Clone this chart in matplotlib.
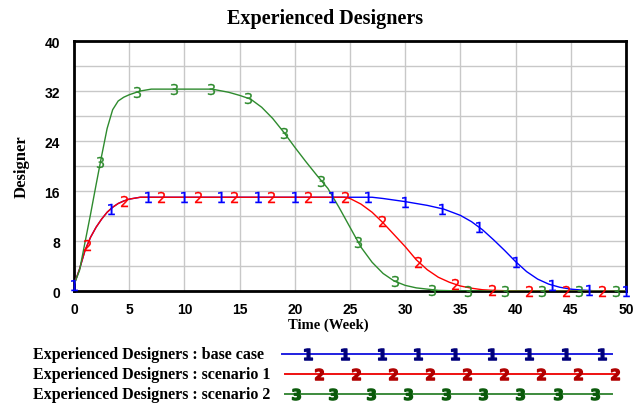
import numpy as np
import matplotlib
matplotlib.use("Agg")
import matplotlib.pyplot as plt

# ---------------- data ----------------
base_t = [0, 0.5, 1, 1.5, 2, 2.5, 3, 3.5, 4, 4.5, 5, 6, 8, 27, 28, 30, 32, 33.5, 35,
          36, 37, 38, 39, 40, 41, 42, 43, 44, 45, 46, 47, 50]
base_v = [1.0, 3.5, 6.5, 8.6, 10.2, 11.5, 12.6, 13.4, 14.0, 14.4, 14.7, 15.0, 15.0, 15.0,
          14.8, 14.3, 13.7, 13.1, 12.1, 11.1, 9.8, 8.2, 6.5, 4.7, 3.1, 1.9, 1.1, 0.6, 0.3,
          0.15, 0.05, 0.0]

s1_t = [0, 0.5, 1, 1.5, 2, 2.5, 3, 3.5, 4, 4.5, 5, 6, 8, 24.5, 25, 26, 27, 28, 29, 30,
        31, 32, 33, 34, 35, 36, 37, 38, 40, 50]
s1_v = [1.0, 3.5, 6.5, 8.6, 10.2, 11.5, 12.6, 13.4, 14.0, 14.4, 14.7, 15.0, 15.0, 15.0,
        14.8, 13.9, 12.6, 10.9, 9.0, 7.1, 5.0, 3.4, 2.2, 1.4, 0.8, 0.45, 0.2, 0.1, 0.0, 0.0]

s2_t = [0, 0.5, 1, 1.5, 2, 2.5, 3, 3.5, 4, 4.5, 5, 6, 7, 12.5, 14, 15, 16, 17, 18, 19,
        20, 21, 22, 23, 24, 25, 26, 27, 28, 29, 30, 31, 32, 33, 35, 50]
s2_v = [1.0, 3.3, 7.8, 12.3, 17.0, 21.6, 26.0, 29.0, 30.4, 31.0, 31.4, 32.0, 32.3, 32.3,
        31.8, 31.3, 30.7, 29.4, 27.6, 25.4, 23.0, 20.7, 18.5, 16.4, 13.4, 10.2, 7.0, 4.6,
        2.8, 1.6, 0.9, 0.5, 0.3, 0.1, 0.0, 0.0]

series_labels = ["Experienced Designers : base case",
                 "Experienced Designers : scenario 1",
                 "Experienced Designers : scenario 2"]
x_ticks = list(range(0, 51, 5))
y_ticks = list(range(0, 41, 8))

# ---------------- styling ----------------
line_colors = ["#0000FF", "#FF0000", "#2E8B2E"]
leg_line_colors = ["#2020E0", "#EE1010", "#3C8A3C"]
leg_mark_colors = ["#00007A", "#B00000", "#0A5A0A"]
mark_syms = ["$1$", "$2$", "$3$"]
leg_syms = [r"$\mathbf{1}$", r"$\mathbf{2}$", r"$\mathbf{3}$"]
mark_offsets = [0.0, 1.2, 2.4]
mark_step = 50 / 15

W, H = 636, 410
fig = plt.figure(figsize=(W / 100, H / 100), dpi=100)
ax = fig.add_axes([74 / W, 118 / H, (626 - 74) / W, (292 - 42) / H])

ax.set_xlim(0, 50)
ax.set_ylim(0, 40)
ax.set_xticks(x_ticks)
ax.set_yticks(y_ticks)
ax.set_yticks(np.arange(4, 40, 8), minor=True)
ax.grid(True, which="both", color="#C8C8C8", linewidth=1.0)
ax.set_axisbelow(True)
ax.tick_params(which="both", length=0)
ax.tick_params(axis="x", pad=8)
ax.tick_params(axis="y", pad=10)
for lab in ax.get_xticklabels() + ax.get_yticklabels():
    lab.set_fontfamily("Liberation Sans")
    lab.set_fontweight("bold")
    lab.set_fontsize(10)
for sp in ax.spines.values():
    sp.set_linewidth(2.0)
    sp.set_color("black")

data = [(base_t, base_v), (s1_t, s1_v), (s2_t, s2_v)]
for i, (t, v) in enumerate(data):
    ax.plot(t, v, color=line_colors[i], linewidth=1.0, zorder=3)
    mt = np.arange(mark_offsets[i], 50.01, mark_step)
    mv = np.interp(mt, t, v)
    ax.plot(mt, mv, linestyle="none", marker=mark_syms[i], markersize=8,
            markeredgewidth=0.2, color=line_colors[i], zorder=4, clip_on=False)

fig.text(325 / W, 1 - 19 / H, "Experienced Designers", ha="center", va="center",
         fontfamily="Liberation Serif", fontweight="bold", fontsize=14.5)
fig.text(22 / W, 1 - 167 / H, "Designer", ha="center", va="center", rotation=90,
         fontfamily="Liberation Serif", fontweight="bold", fontsize=12)
fig.text(328 / W, 1 - 325 / H, "Time (Week)", ha="center", va="center",
         fontfamily="Liberation Serif", fontweight="bold", fontsize=10.5)

# ---------------- legend (drawn in its own axes, pixel-like coordinates) ----------------
lax = fig.add_axes([0, 0, 1, 1], facecolor="none")
lax.set_xlim(0, W)
lax.set_ylim(H, 0)
lax.axis("off")
row_y = [355, 375, 395]
line_span = [(282, 612), (285, 618), (285, 612)]
mark_start = [308, 319, 296]
mark_gap = [36.8, 37.0, 37.4]
for i in range(3):
    lax.text(33, row_y[i], series_labels[i], ha="left", va="center",
             fontfamily="Liberation Serif", fontweight="bold", fontsize=11.5)
    lax.plot(line_span[i], [row_y[i], row_y[i]], color=leg_line_colors[i], linewidth=1.4)
    mx = mark_start[i] + mark_gap[i] * np.arange(9)
    lax.plot(mx, np.full(9, row_y[i]), linestyle="none", marker=leg_syms[i],
             markersize=8, color=leg_mark_colors[i])

fig.savefig("out.png", dpi=100)
